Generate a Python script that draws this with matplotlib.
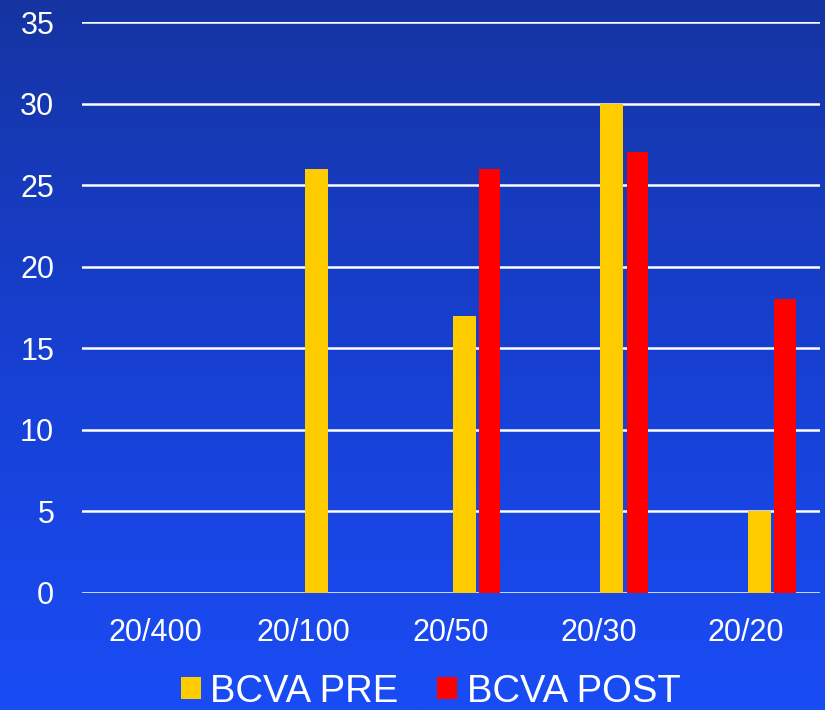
import numpy as np
import matplotlib
matplotlib.use("Agg")
import matplotlib.pyplot as plt
from matplotlib.colors import LinearSegmentedColormap
from matplotlib.patches import Patch

# data
categories = ["20/400", "20/100", "20/50", "20/30", "20/20"]
bcva_pre = [0, 26, 17, 30, 5]
bcva_post = [0, 0, 26, 27, 18]
yticks = [0, 5, 10, 15, 20, 25, 30, 35]

plt.rcParams['font.family'] = ['Liberation Sans', 'DejaVu Sans']

fig = plt.figure(figsize=(8.25, 7.1), dpi=100)

# gradient background
bg = fig.add_axes([0, 0, 1, 1], zorder=-1)
cmap = LinearSegmentedColormap.from_list("bg", ["#1534a2", "#1740d2", "#1a4cf6"])
grad = np.linspace(0, 1, 256).reshape(-1, 1)
bg.imshow(grad, aspect="auto", cmap=cmap, extent=[0, 1, 0, 1], origin="upper")
bg.axis("off")

ax = fig.add_axes([0.0994, 0.165, 0.8946, 0.804])
ax.set_facecolor("none")

x = np.arange(len(categories))
w = 0.155
ax.bar(x + 0.012, bcva_pre, width=w, align="edge", color="#ffcc00", zorder=3)
ax.bar(x + 0.19, bcva_post, width=w * 0.93, align="edge", color="#ff0000", zorder=3)

ax.set_xlim(-0.5, len(categories) - 0.5)
ax.set_ylim(0, 35)
ax.set_yticks(yticks)
ax.set_xticks(x)
ax.set_xticklabels(categories)
ax.yaxis.grid(True, color="white", linewidth=1.8, zorder=1)
ax.set_axisbelow(True)
for s in ax.spines.values():
    s.set_visible(False)
ax.tick_params(axis="both", length=0, colors="white", labelsize=22)
ax.tick_params(axis="y", pad=20)
ax.tick_params(axis="x", pad=18)

handles = [Patch(facecolor="#ffcc00", label="BCVA PRE"),
           Patch(facecolor="#ff0000", label="BCVA POST")]
leg = fig.legend(handles=handles, loc="center", bbox_to_anchor=(0.522, 0.026),
                 ncol=2, frameon=False, fontsize=27.5, handlelength=0.52,
                 handleheight=0.52, handletextpad=0.25, columnspacing=1.02,
                 borderpad=0)
for t in leg.get_texts():
    t.set_color("white")

fig.savefig("out.png", dpi=100)
